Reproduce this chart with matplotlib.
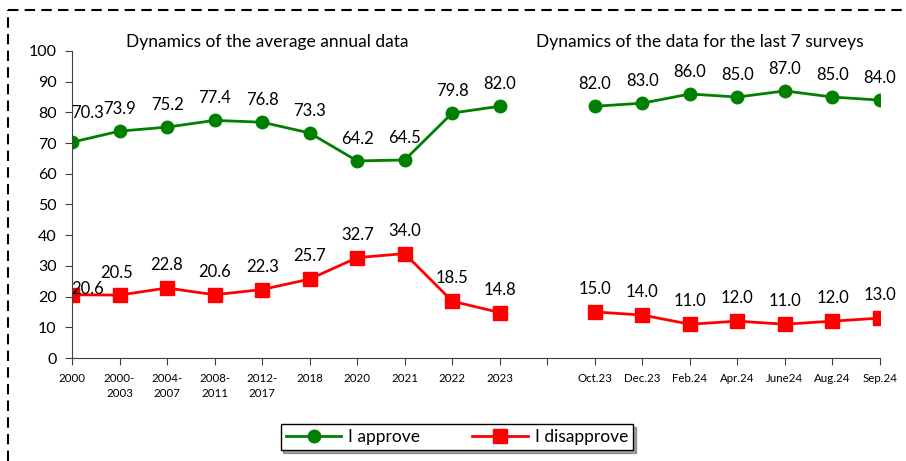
import numpy as np
import matplotlib
matplotlib.use("Agg")
import matplotlib.pyplot as plt
from matplotlib.lines import Line2D

plt.rcParams['font.family'] = ['Lato', 'DejaVu Sans']

# categories: 10 yearly points, one empty slot, 7 last surveys
categories = ['2000', '2000-\n2003', '2004-\n2007', '2008-\n2011', '2012-\n2017',
              '2018', '2020', '2021', '2022', '2023', '',
              'Oct.23', 'Dec.23', 'Feb.24', 'Apr.24', 'June24', 'Aug.24', 'Sep.24']
approve = [70.3, 73.9, 75.2, 77.4, 76.8, 73.3, 64.2, 64.5, 79.8, 82.0, np.nan,
           82.0, 83.0, 86.0, 85.0, 87.0, 85.0, 84.0]
disapprove = [20.6, 20.5, 22.8, 20.6, 22.3, 25.7, 32.7, 34.0, 18.5, 14.8, np.nan,
              15.0, 14.0, 11.0, 12.0, 11.0, 12.0, 13.0]
subtitles = ['Dynamics of the average annual data',
             'Dynamics of the data for the last 7 surveys']

green = '#008000'
red = '#FF0000'

fig = plt.figure(figsize=(9.06, 4.61), dpi=100, facecolor='white')
ax = fig.add_axes([72/906, 1-358/461, (880-72)/906, (358-51)/461])

x = np.arange(len(categories))
ax.plot(x, approve, '-o', color=green, lw=2, ms=9, label='I approve')
ax.plot(x, disapprove, '-s', color=red, lw=2, ms=9.5, label='I disapprove')

# data label offsets in pixels; the first labels were nudged by hand in the original
def label_offset(i, series):
    if series == 'a':
        return (16, 29) if i == 0 else (0, 22)
    if i == 0:
        return (16, 6)
    if i == 1:
        return (-3, 22)
    return (0, 23)

for i, (a, d) in enumerate(zip(approve, disapprove)):
    if np.isnan(a):
        continue
    ax.annotate(f'{a:.1f}', (x[i], a), xytext=label_offset(i, 'a'),
                textcoords='offset pixels', ha='center', va='center', fontsize=12)
    ax.annotate(f'{d:.1f}', (x[i], d), xytext=label_offset(i, 'd'),
                textcoords='offset pixels', ha='center', va='center', fontsize=12)

ax.set_xlim(0, len(categories) - 1)
ax.set_ylim(0, 100)
ax.set_yticks(np.arange(0, 101, 10))
ax.set_xticks(x)
ax.set_xticklabels(categories, fontsize=8.3, linespacing=1.4, va='top')
ax.tick_params(axis='y', labelsize=11.5, length=5, color='#404040', pad=6)
ax.tick_params(axis='x', length=5, color='#404040', pad=6)
for s in ['top', 'right']:
    ax.spines[s].set_visible(False)
for s in ['left', 'bottom']:
    ax.spines[s].set_color('#404040')

fig.text(267/906, 1-42/461, subtitles[0], ha='center', va='center', fontsize=12.5)
fig.text(700/906, 1-42/461, subtitles[1], ha='center', va='center', fontsize=12.5)

leg = ax.legend(loc='center', bbox_to_anchor=(457/906, 1-437/461),
                bbox_transform=fig.transFigure, ncol=2, fontsize=12.5,
                frameon=True, fancybox=False, shadow=True, handlelength=3.2,
                columnspacing=3.0, borderpad=0.3, borderaxespad=0,
                handletextpad=0.4)
leg.get_frame().set_edgecolor('black')
leg.get_frame().set_linewidth(1.0)

# dashed outer border (top and left visible)
fig.add_artist(Line2D([8/906, 1.0], [1-10/461, 1-10/461], transform=fig.transFigure,
                      color='black', lw=1.5, linestyle=(0, (5, 3))))
fig.add_artist(Line2D([8/906, 8/906], [0, 1-10/461], transform=fig.transFigure,
                      color='black', lw=1.5, linestyle=(0, (5, 3))))

fig.savefig('out.png', dpi=100)
